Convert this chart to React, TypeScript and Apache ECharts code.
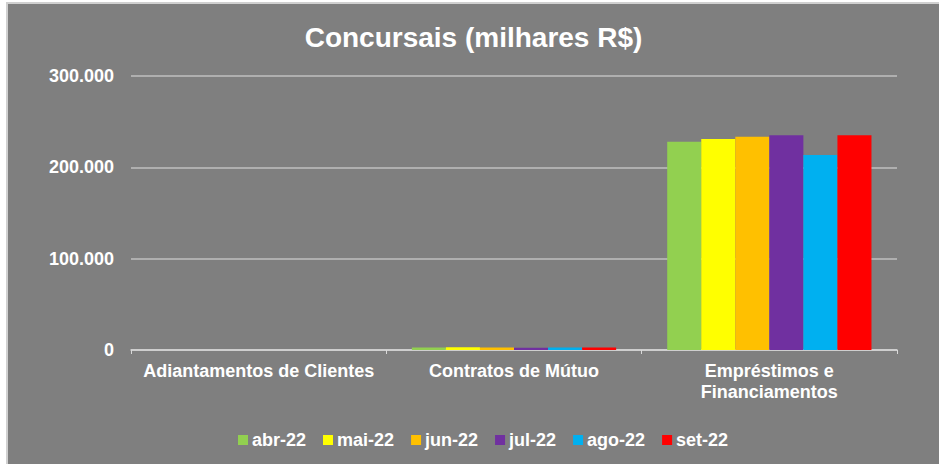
import React, { useEffect, useRef } from "react";
import * as echarts from "echarts";

const categories = ["Adiantamentos de Clientes", "Contratos de Mútuo", "Empréstimos e\nFinanciamentos"];
const months = ["abr-22", "mai-22", "jun-22", "jul-22", "ago-22", "set-22"];
const colors = ["#92D050", "#FFFF00", "#FFC000", "#7030A0", "#00B0F0", "#FF0000"];
const abr22 = [0, 2800, 228000];
const mai22 = [0, 2900, 231000];
const jun22 = [0, 2700, 233500];
const jul22 = [0, 2600, 235000];
const ago22 = [0, 2800, 213500];
const set22 = [0, 2700, 235000];
const seriesValues = [abr22, mai22, jun22, jul22, ago22, set22];
const yTicks = { min: 0, max: 300000, interval: 100000 };

const FONT = "'Liberation Sans', Arial, sans-serif";

export default function App() {
  const ref = useRef<HTMLDivElement>(null);
  useEffect(() => {
    if (!ref.current) return;
    const chart = echarts.init(ref.current, undefined, { renderer: "svg" });
    chart.setOption({
      animation: false,
      backgroundColor: "#7F7F7F",
      textStyle: { fontFamily: FONT },
      title: {
        text: "Concursais (milhares R$)",
        left: "center",
        top: 14,
        textStyle: { color: "#FFFFFF", fontSize: 28, fontWeight: "bold", fontFamily: FONT },
      },
      legend: {
        data: months,
        left: 225,
        top: 422,
        itemWidth: 10,
        itemHeight: 10,
        itemGap: 17,
        icon: "rect",
        textStyle: { color: "#FFFFFF", fontSize: 18, fontWeight: "bold", fontFamily: FONT, padding: [0, 0, 0, -1] },
      },
      grid: { left: 123, right: 42, top: 72, bottom: 114, containLabel: false },
      xAxis: {
        type: "category",
        data: categories,
        axisLine: { lineStyle: { color: "#D9D9D9", width: 1.5 } },
        axisTick: { show: true, length: 4, lineStyle: { color: "#D9D9D9" } },
        axisLabel: {
          color: "#FFFFFF",
          fontSize: 18,
          fontWeight: "bold",
          fontFamily: FONT,
          margin: 10,
          lineHeight: 21,
          interval: 0,
        },
      },
      yAxis: {
        type: "value",
        min: yTicks.min,
        max: yTicks.max,
        interval: yTicks.interval,
        axisLine: { show: false },
        axisTick: { show: false },
        splitLine: { lineStyle: { color: "#BFBFBF", width: 1.5 } },
        axisLabel: {
          color: "#FFFFFF",
          fontSize: 18,
          fontWeight: "bold",
          fontFamily: FONT,
          margin: 17,
          formatter: (v: number) => (v === 0 ? "0" : v.toLocaleString("de-DE")),
        },
      },
      series: months.map((m, i) => ({
        name: m,
        type: "bar",
        data: seriesValues[i],
        barGap: "0%",
        barCategoryGap: "20%",
        itemStyle: { color: colors[i] },
      })),
    });
    return () => chart.dispose();
  }, []);
  return (
    <div style={{ position: "fixed", left: 0, top: 0, width: 939, height: 464, background: "#FFFFFF" }}>
      <div
        style={{
          position: "absolute",
          left: 6,
          top: 2,
          width: 933,
          height: 462,
          background: "#D0D0D0",
        }}
      />
      <div ref={ref} style={{ position: "absolute", left: 8, top: 4, width: 931, height: 460 }} />
    </div>
  );
}
